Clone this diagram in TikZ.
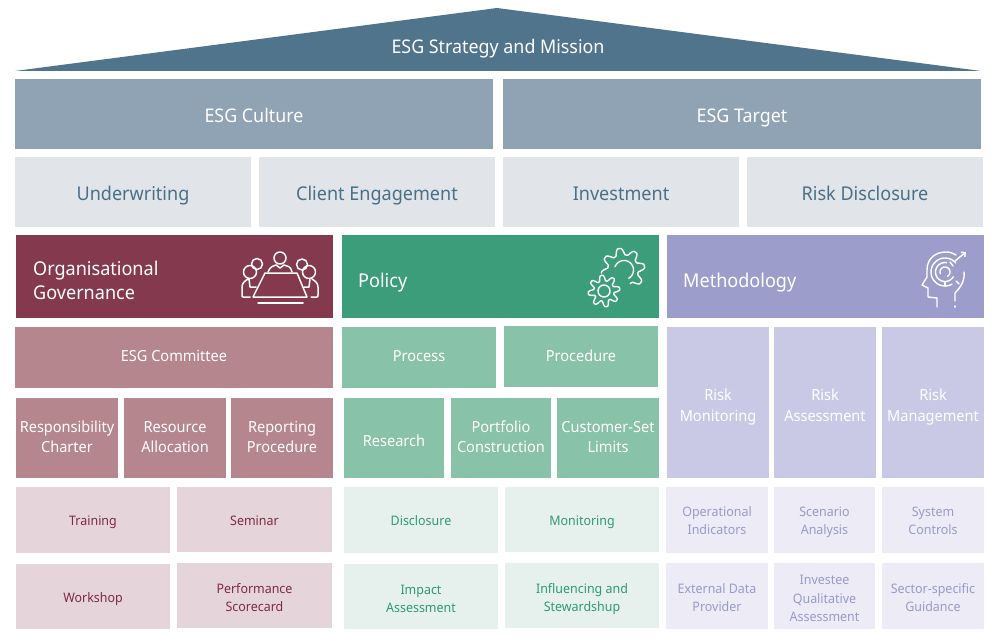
\documentclass[tikz,border=0pt]{standalone}
\usepackage{fontspec}
\setmainfont[FakeStretch=0.95]{Noto Sans}
\usetikzlibrary{arrows.meta}
\lineskiplimit=-100pt
\definecolor{roofc}{HTML}{4F748C}
\definecolor{bluem}{HTML}{8FA3B4}
\definecolor{bluel}{HTML}{E1E5EA}
\definecolor{bluet}{HTML}{4A7087}
\definecolor{redd}{HTML}{84394E}
\definecolor{redm}{HTML}{B5868E}
\definecolor{redl}{HTML}{E5D5DA}
\definecolor{redt}{HTML}{7D2A42}
\definecolor{grnd}{HTML}{3C9D7B}
\definecolor{grnm}{HTML}{88C2A8}
\definecolor{grnl}{HTML}{E6F1EE}
\definecolor{grnt}{HTML}{2F9A73}
\definecolor{pprd}{HTML}{9D9DCC}
\definecolor{pprm}{HTML}{C9C9E6}
\definecolor{pprl}{HTML}{ECEBF6}
\definecolor{pprt}{HTML}{9A9ACB}
\newcommand{\st}{\rule[-0.3em]{0pt}{1.41em}}
\newcommand{\bx}[8][0]{%
  \path[#7] (#3,#4) rectangle (#5,#6);
  \node[lbl,#7] (#2) at ({(#3+#5)/2},{(#4+#6)/2+#1}) {\st#8\st};}
\tikzset{
  x=1pt,y=-1pt,
  declare function={tooth(\a)=max(-0.75,min(0.75,sin(\a)))/0.75;},
  lbl/.style={align=center,inner sep=0pt},
  icon/.style={draw=white,line width=1.5pt,line cap=round,line join=round,fill=none},
  T1/.style={font=\fontsize{18.8}{22}\selectfont,text=white},
  T2/.style={font=\fontsize{19}{24}\selectfont,text=bluet},
  T3/.style={font=\fontsize{19}{24.5}\selectfont,text=white},
  b1/.style={fill=bluem,T1},
  b2/.style={fill=bluel,T2},
  rm/.style={fill=redm,font=\fontsize{15.3}{20.5}\selectfont,text=white},
  gm/.style={fill=grnm,font=\fontsize{15.3}{20.5}\selectfont,text=white},
  pm/.style={fill=pprm,font=\fontsize{15.3}{20.5}\selectfont,text=white},
  rl/.style={fill=redl,font=\fontsize{13.1}{18.3}\selectfont,text=redt},
  gl/.style={fill=grnl,font=\fontsize{13.1}{18.3}\selectfont,text=grnt},
  pl/.style={fill=pprl,font=\fontsize{13.1}{18.3}\selectfont,text=pprt},
}
\begin{document}
\begin{tikzpicture}
\useasboundingbox[fill=white] (0,0) rectangle (1000,639);
% roof
\path[fill=roofc] (15,71) -- (497,8) -- (981,71) -- cycle;
\node[lbl,T1] (roof) at (498,46) {\st ESG Strategy and Mission\st};
% tier 1, 2
\bx[1]{culture}{15}{79}{493}{149}{b1}{ESG Culture}
\bx[1]{target}{503}{79}{981}{149}{b1}{ESG Target}
\bx[1]{uw}{15}{157}{251}{227}{b2}{Underwriting}
\bx[1]{ce}{259}{157}{495}{227}{b2}{Client Engagement}
\bx[1]{inv}{503}{157}{739}{227}{b2}{Investment}
\bx[1]{rdi}{747}{157}{983}{227}{b2}{Risk Disclosure}
% headers
\path[fill=redd] (16,235) rectangle (333,318);
\node[lbl,T3,align=left,anchor=west] (og) at (33,280) {\st Organisational\\Governance\st};
\path[fill=grnd] (342,235) rectangle (659,318);
\node[lbl,T3,anchor=west] (pol) at (358,280) {\st Policy\st};
\path[fill=pprd] (667,235) rectangle (984,318);
\node[lbl,T3,anchor=west] (meth) at (683,280) {\st Methodology\st};
% red column
\bx[-2]{com}{15}{327}{333}{388}{rm}{ESG Committee}
\bx[-1.5]{resp}{16}{398}{118}{478}{rm}{Responsibility\\Charter}
\bx[-1.5]{res}{124}{398}{226}{478}{rm}{Resource\\Allocation}
\bx[-1.5]{rep}{231}{398}{333}{478}{rm}{Reporting\\Procedure}
\bx[0.4]{tr}{16}{487}{170}{553}{rl}{Training}
\bx[0.4]{sem}{177}{487}{332}{552}{rl}{Seminar}
\bx[1]{ws}{16}{564}{170}{629}{rl}{Workshop}
\bx[1.9]{ps}{177}{563}{332}{628}{rl}{Performance\\Scorecard}
% green column
\bx[-2]{proc}{342}{327}{496}{388}{gm}{Process}
\bx[-1.5]{prd}{504}{326}{658}{387}{gm}{Procedure}
\bx[2]{rsch}{344}{398}{444}{478}{gm}{Research}
\bx[-1.9]{port}{451}{398}{551}{478}{gm}{Portfolio\\Construction}
\bx[-1.9]{cust}{557}{398}{659}{478}{gm}{Customer-Set\\Limits}
\bx[0.4]{dis}{344}{487}{498}{553}{gl}{Disclosure}
\bx[0.4]{mon}{505}{487}{659}{552}{gl}{Monitoring}
\bx[1.4]{imp}{344}{564}{498}{629}{gl}{Impact\\Assessment}
\bx[1.9]{infl}{505}{563}{659}{628}{gl}{Influencing and\\Stewardshup}
% purple column
\bx[2.5]{rm1}{667}{327}{769}{478}{pm}{Risk\\Monitoring}
\bx[2.5]{rm2}{774}{327}{876}{478}{pm}{Risk\\Assessment}
\bx[2.5]{rm3}{882}{327}{984}{478}{pm}{Risk\\Management}
\bx[0.4]{op}{666}{487}{768}{553}{pl}{Operational\\Indicators}
\bx[0.4]{sc}{774}{487}{875}{553}{pl}{Scenario\\Analysis}
\bx[0.4]{sy}{882}{487}{984}{553}{pl}{System\\Controls}
\bx[1.4]{ex}{666}{563}{768}{629}{pl}{External Data\\Provider}
\bx[1.9]{iq}{774}{563}{875}{629}{pl}{Investee\\Qualitative\\Assessment}
\bx[1.4]{se}{882}{563}{984}{629}{pl}{Sector-specific\\Guidance}
% meeting icon
\draw[icon] (280,258) circle (6);
\draw[icon] (268,272) .. controls (270,266) and (274,266) .. (276,265) -- (280,268) -- (284,265) .. controls (287,266) and (291,266) .. (292,272);
\draw[icon] (257,264) circle (5.5);
\draw[icon] (302,264.5) circle (5.5);
\draw[icon] (250,272) circle (6.5);
\draw[icon] (309,272) circle (6.5);
\draw[icon] (265,273) -- (297,273) -- (307,297) -- (253,297) -- cycle;
\draw[icon] (258,303) -- (303,303);
\draw[icon] (250,297) -- (243,297) .. controls (242,297) and (242,296) .. (242,295) -- (242,287) .. controls (242,283) and (245,281) .. (248,279) (249,279) -- (250,287) -- (256,287);
\draw[icon] (311,297) -- (317,297) .. controls (318,297) and (318,296) .. (318,295) -- (318,287) .. controls (318,283) and (315,281) .. (312,279) (310,279) -- (309,287) -- (304,287);
% gears
\draw[icon,line width=1.4pt] plot[smooth,samples=120,domain=0:360] ({604+(13+2.8*tooth(8*\x+22.5))*cos(\x)},{291-(13+2.8*tooth(8*\x+22.5))*sin(\x)});
\draw[icon,line width=1.4pt] (604,291) circle (6);
\draw[icon,line width=1.4pt] plot[smooth,samples=100,domain=-62:188] ({623+(18.5+3.2*tooth(8*\x+10))*cos(\x)},{270-(18.5+3.2*tooth(8*\x+10))*sin(\x)});
\draw[icon,line width=1.4pt] plot[smooth,samples=40,domain=-60:160] ({624+9.5*cos(\x)},{270-9.5*sin(\x)});
% head icon
\draw[icon,line width=1.4pt] (937,307) -- (937,298) -- (928,297) -- (928,288) -- (922,285) -- (927,277) -- (927,270) .. controls (927,258) and (936,252) .. (946,252) .. controls (950,252) and (953,253) .. (956,255);
\draw[icon,line width=1.4pt] (964,272) .. controls (965,280) and (961,287) .. (955,293) -- (955,301);
\draw[icon,line width=1.4pt] (955,306) -- (955,307);
\draw[icon,line width=1.4pt,-{Straight Barb[length=3pt,width=6pt]}] (955,261) -- (966,252);
\draw[icon,line width=1.4pt] plot[smooth,samples=30,domain=40:300] ({945+14*cos(\x)},{272-14*sin(\x)});
\draw[icon,line width=1.4pt] plot[smooth,samples=30,domain=80:330] ({945+9.5*cos(\x)},{272-9.5*sin(\x)});
\draw[icon,line width=1.4pt] plot[smooth,samples=30,domain=-60:200] ({945+5*cos(\x)},{272-5*sin(\x)});
\draw[icon,line width=1.4pt] (950,262) -- (953,266);
\draw[icon,line width=1.4pt] (956,281) -- (959,284);
\draw[icon,line width=1.4pt] (945,282) -- (945,286);
\end{tikzpicture}
\end{document}
